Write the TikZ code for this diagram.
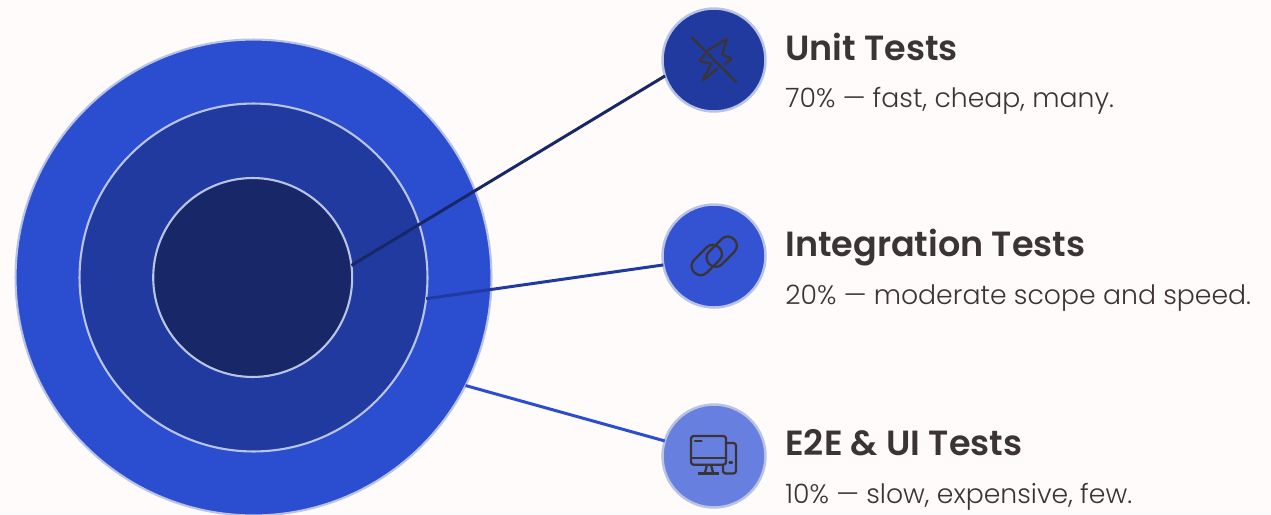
\documentclass[tikz,border=0pt]{standalone}
\usepackage{fontspec}
\setmainfont{Lato}
\newfontfamily\headfont{Poppins SemiBold}
\newfontfamily\bodyfont{Poppins Light}
\usepackage{xcolor}
\usepackage{tikz}
\definecolor{pagebg}{HTML}{FFFBFA}
\definecolor{ringc}{HTML}{2B4DD0}
\definecolor{ringb}{HTML}{203A9F}
\definecolor{ringa}{HTML}{172767}
\definecolor{badgec}{HTML}{6780DF}
\definecolor{badgeb}{HTML}{3353D2}
\definecolor{edgec}{HTML}{B9C3E4}
\definecolor{inkc}{HTML}{3A3534}
\tikzstyle{ring} = [circle, draw=edgec, line width=1.2pt, inner sep=0pt, outer sep=0pt]
\tikzstyle{badge} = [circle, draw=edgec, line width=1.4pt, inner sep=0pt, outer sep=0pt, minimum size=2.06cm]
\tikzstyle{head} = [anchor=base west, inner sep=0pt, text=inkc, font=\headfont\fontsize{19.9}{22}\selectfont]
\tikzstyle{body} = [anchor=base west, inner sep=0pt, text=inkc, font=\bodyfont\fontsize{15.2}{18}\selectfont]
\tikzstyle{icon} = [draw=inkc, line width=1.3pt, line cap=round, line join=round]
\begin{document}
\begin{tikzpicture}[x=0.02cm,y=-0.02cm]
    \useasboundingbox (0,0) rectangle (1271,514);
    \fill[pagebg] (0,0) rectangle (1271,514);
    \begin{scope}
        \clip (0,0) rectangle (1271,514);
        \node (outer) [ring, fill=ringc, minimum size=9.52cm] at (253.5,277.5) {};
    \end{scope}
    \node (middle) [ring, fill=ringb, minimum size=6.96cm] at (253.5,277.5) {};
    \node (inner) [ring, fill=ringa, minimum size=3.98cm] at (252.7,277.5) {};
    \node (unit) [badge, fill=ringb] at (714,60) {};
    \node (integ) [badge, fill=badgeb] at (714,256) {};
    \node (e2e) [badge, fill=badgec] at (714,456) {};
    \draw[line width=1.7pt, ringa] (inner.7.5) -- (unit.198);
    \draw[line width=1.7pt, ringb] (middle.-7.2) -- (integ.190);
    \draw[line width=1.7pt, ringc] (outer.-27.3) -- (e2e.163.6);
    \node (unithead) [head] at (785,60) {Unit Tests};
    \node (unitbody) [body] at (785,107) {70\% — fast, cheap, many.};
    \node (integhead) [head] at (785,256) {Integration Tests};
    \node (integbody) [body] at (785,304) {20\% — moderate scope and speed.};
    \node (e2ehead) [head] at (785,455) {E2E \& UI Tests};
    \node (e2ebody) [body] at (785,503) {10\% — slow, expensive, few.};
    % bolt
    \draw[icon, rounded corners=0.6pt] (707.5,50.5) -- (727,38.5) -- (722,55) -- (732,58.5) -- (725,64);
    \draw[icon, rounded corners=0.6pt] (705,54.5) -- (699,61) -- (711.5,63.5) -- (702,81) -- (717.5,68.5);
    \draw[icon] (691.7,37.3) -- (736,81.7);
    % link
    \draw[icon, shift={(706.7,260)}, rotate=45, rounded corners=0.17cm] (-17.5,-9) rectangle (17.5,9);
    \draw[icon, shift={(721.7,251.7)}, rotate=45, rounded corners=0.17cm] (-17.5,-9) rectangle (17.5,9);
    % monitor
    \draw[icon, rounded corners=1.5pt] (691,436) rectangle (726,464.7);
    \draw[icon] (691,458.3) -- (726,458.3);
    \draw[icon] (695,441.3) -- (701.5,441.3);
    \draw[icon] (707,465) -- (705,472.5) (711,465) -- (713,472.5);
    \draw[icon, line width=2pt, line cap=butt] (698,473.3) -- (719,473.3);
    \draw[icon, rounded corners=1.5pt] (726,443) -- (736,443) -- (736,473.5) -- (723,473.5) -- (723,465);
    \draw[icon] (729.5,462.5) -- (732,462.5);
\end{tikzpicture}
\end{document}
